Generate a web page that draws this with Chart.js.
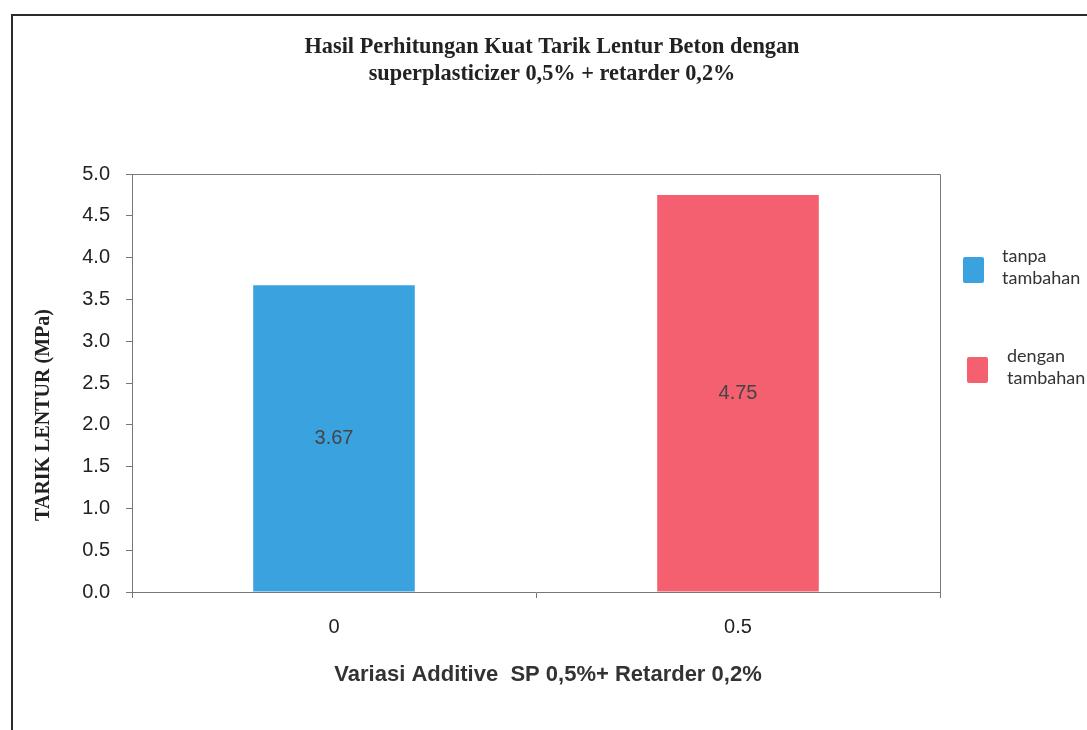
<!DOCTYPE html>
<html>
<head>
<meta charset="utf-8">
<script src="https://cdn.jsdelivr.net/npm/chart.js@4.4.1/dist/chart.umd.min.js"></script>
<style>
  html, body { margin: 0; padding: 0; background: #fff; overflow: hidden; }
  #frame {
    position: absolute; left: 11px; top: 14px;
    width: 1076px; height: 716px;
    border-left: 2px solid #2b2b2b; border-top: 2px solid #2b2b2b;
  }
  #wrap { position: absolute; left: 0; top: 0; width: 1076px; height: 716px; }
</style>
</head>
<body>
<div id="frame"><div id="wrap"><canvas id="c"></canvas></div></div>
<script>
// Flexural tensile strength of concrete, with and without admixture
const categories = ['0', '0.5'];
const seriesLabels = [['tanpa', 'tambahan'], ['dengan', 'tambahan']];
const tanpaTambahan = [3.67, null];
const denganTambahan = [null, 4.75];
const yTicks = [0, 0.5, 1, 1.5, 2, 2.5, 3, 3.5, 4, 4.5, 5];

const titleLines = ['Hasil Perhitungan Kuat Tarik Lentur Beton dengan', 'superplasticizer 0,5% + retarder 0,2%'];
const yTitle = 'TARIK LENTUR (MPa)';
const xTitle = 'Variasi Additive  SP 0,5%+ Retarder 0,2%';

const BLUE = '#3aa2df';
const RED = '#f4606f';

// Titles, plot frame, value labels and the side legend
const decor = {
  id: 'decor',
  afterDatasetsDraw(chart) {
    const ctx = chart.ctx;
    const a = chart.chartArea;
    ctx.save();
    // top and right edges of the plot frame
    ctx.strokeStyle = '#7a7a7a';
    ctx.lineWidth = 1;
    ctx.beginPath();
    ctx.moveTo(a.left, a.top + 0.5);
    ctx.lineTo(a.right + 0.5, a.top + 0.5);
    ctx.lineTo(a.right + 0.5, a.bottom);
    ctx.stroke();

    // value labels in the middle of each bar
    ctx.fillStyle = '#444';
    ctx.font = '20px "Liberation Sans", Arial, sans-serif';
    ctx.textAlign = 'center';
    ctx.textBaseline = 'middle';
    chart.data.datasets.forEach((ds, di) => {
      const meta = chart.getDatasetMeta(di);
      meta.data.forEach((bar, i) => {
        const v = ds.data[i];
        if (v == null) return;
        const mid = (bar.y + bar.base) / 2;
        ctx.fillText(v.toFixed(2), bar.x, mid);
      });
    });

    // chart title (condensed serif)
    ctx.fillStyle = '#222';
    ctx.font = 'bold 23px "Liberation Serif", "Times New Roman", serif';
    ctx.textBaseline = 'alphabetic';
    const cx = chart.width / 2 + 1;
    ctx.save();
    ctx.translate(cx, 0);
    ctx.scale(0.97, 1);
    ctx.fillText(titleLines[0], 0, 37);
    ctx.fillText(titleLines[1], 0, 64);
    ctx.restore();

    // y axis title
    ctx.save();
    ctx.translate(31, 399);
    ctx.rotate(-Math.PI / 2);
    ctx.font = 'bold 20px "Liberation Serif", "Times New Roman", serif';
    ctx.textBaseline = 'middle';
    ctx.fillText(yTitle, 0, 0);
    ctx.restore();

    // x axis title
    ctx.save();
    ctx.translate(535, 659);
    ctx.font = 'bold 22px "Liberation Sans", Arial, sans-serif';
    ctx.fillStyle = '#333';
    ctx.textBaseline = 'middle';
    ctx.fillText(xTitle, 0, 0);
    ctx.restore();

    // legend
    ctx.textAlign = 'left';
    ctx.textBaseline = 'alphabetic';
    ctx.font = '18px Lato, "Open Sans", sans-serif';
    const legendRows = [241, 341];
    chart.data.datasets.forEach((ds, di) => {
      const y0 = legendRows[di];
      ctx.fillStyle = ds.backgroundColor;
      ctx.beginPath();
      ctx.roundRect(950 + di * 4, y0, 21, 26, 2);
      ctx.fill();
      ctx.fillStyle = '#333';
      seriesLabels[di].forEach((t, li) => {
        ctx.fillText(t, 989 + di * 5, y0 + 5 + li * 22);
      });
    });
    ctx.restore();
  }
};

new Chart(document.getElementById('c'), {
  type: 'bar',
  data: {
    labels: categories,
    datasets: [
      { label: seriesLabels[0].join(' '), data: tanpaTambahan, backgroundColor: BLUE },
      { label: seriesLabels[1].join(' '), data: denganTambahan, backgroundColor: RED }
    ]
  },
  options: {
    responsive: true,
    maintainAspectRatio: false,
    animation: false,
    skipNull: true,
    datasets: { bar: { categoryPercentage: 0.4, barPercentage: 1 } },
    layout: { padding: { left: 0, top: 158, right: 149, bottom: 0 } },
    plugins: { legend: { display: false }, tooltip: { enabled: false }, title: { display: false } },
    scales: {
      x: {
        offset: true,
        grid: { offset: true, drawOnChartArea: false, drawTicks: true, tickLength: 6, color: '#777' },
        border: { color: '#777' },
        ticks: { color: '#222', font: { size: 20, family: '"Liberation Sans", Arial, sans-serif' }, padding: 17 },
        afterFit(s) { s.height = 140; }
      },
      y: {
        min: 0, max: 5,
        afterBuildTicks(s) { s.ticks = yTicks.map(v => ({ value: v })); },
        grid: { drawOnChartArea: false, drawTicks: true, tickLength: 6, color: '#777' },
        border: { color: '#777' },
        ticks: {
          color: '#222', padding: 16,
          font: { size: 20, family: '"Liberation Sans", Arial, sans-serif' },
          callback: v => Number(v).toFixed(1)
        },
        afterFit(s) { s.width = 119; }
      }
    }
  },
  plugins: [decor]
});
</script>
</body>
</html>
